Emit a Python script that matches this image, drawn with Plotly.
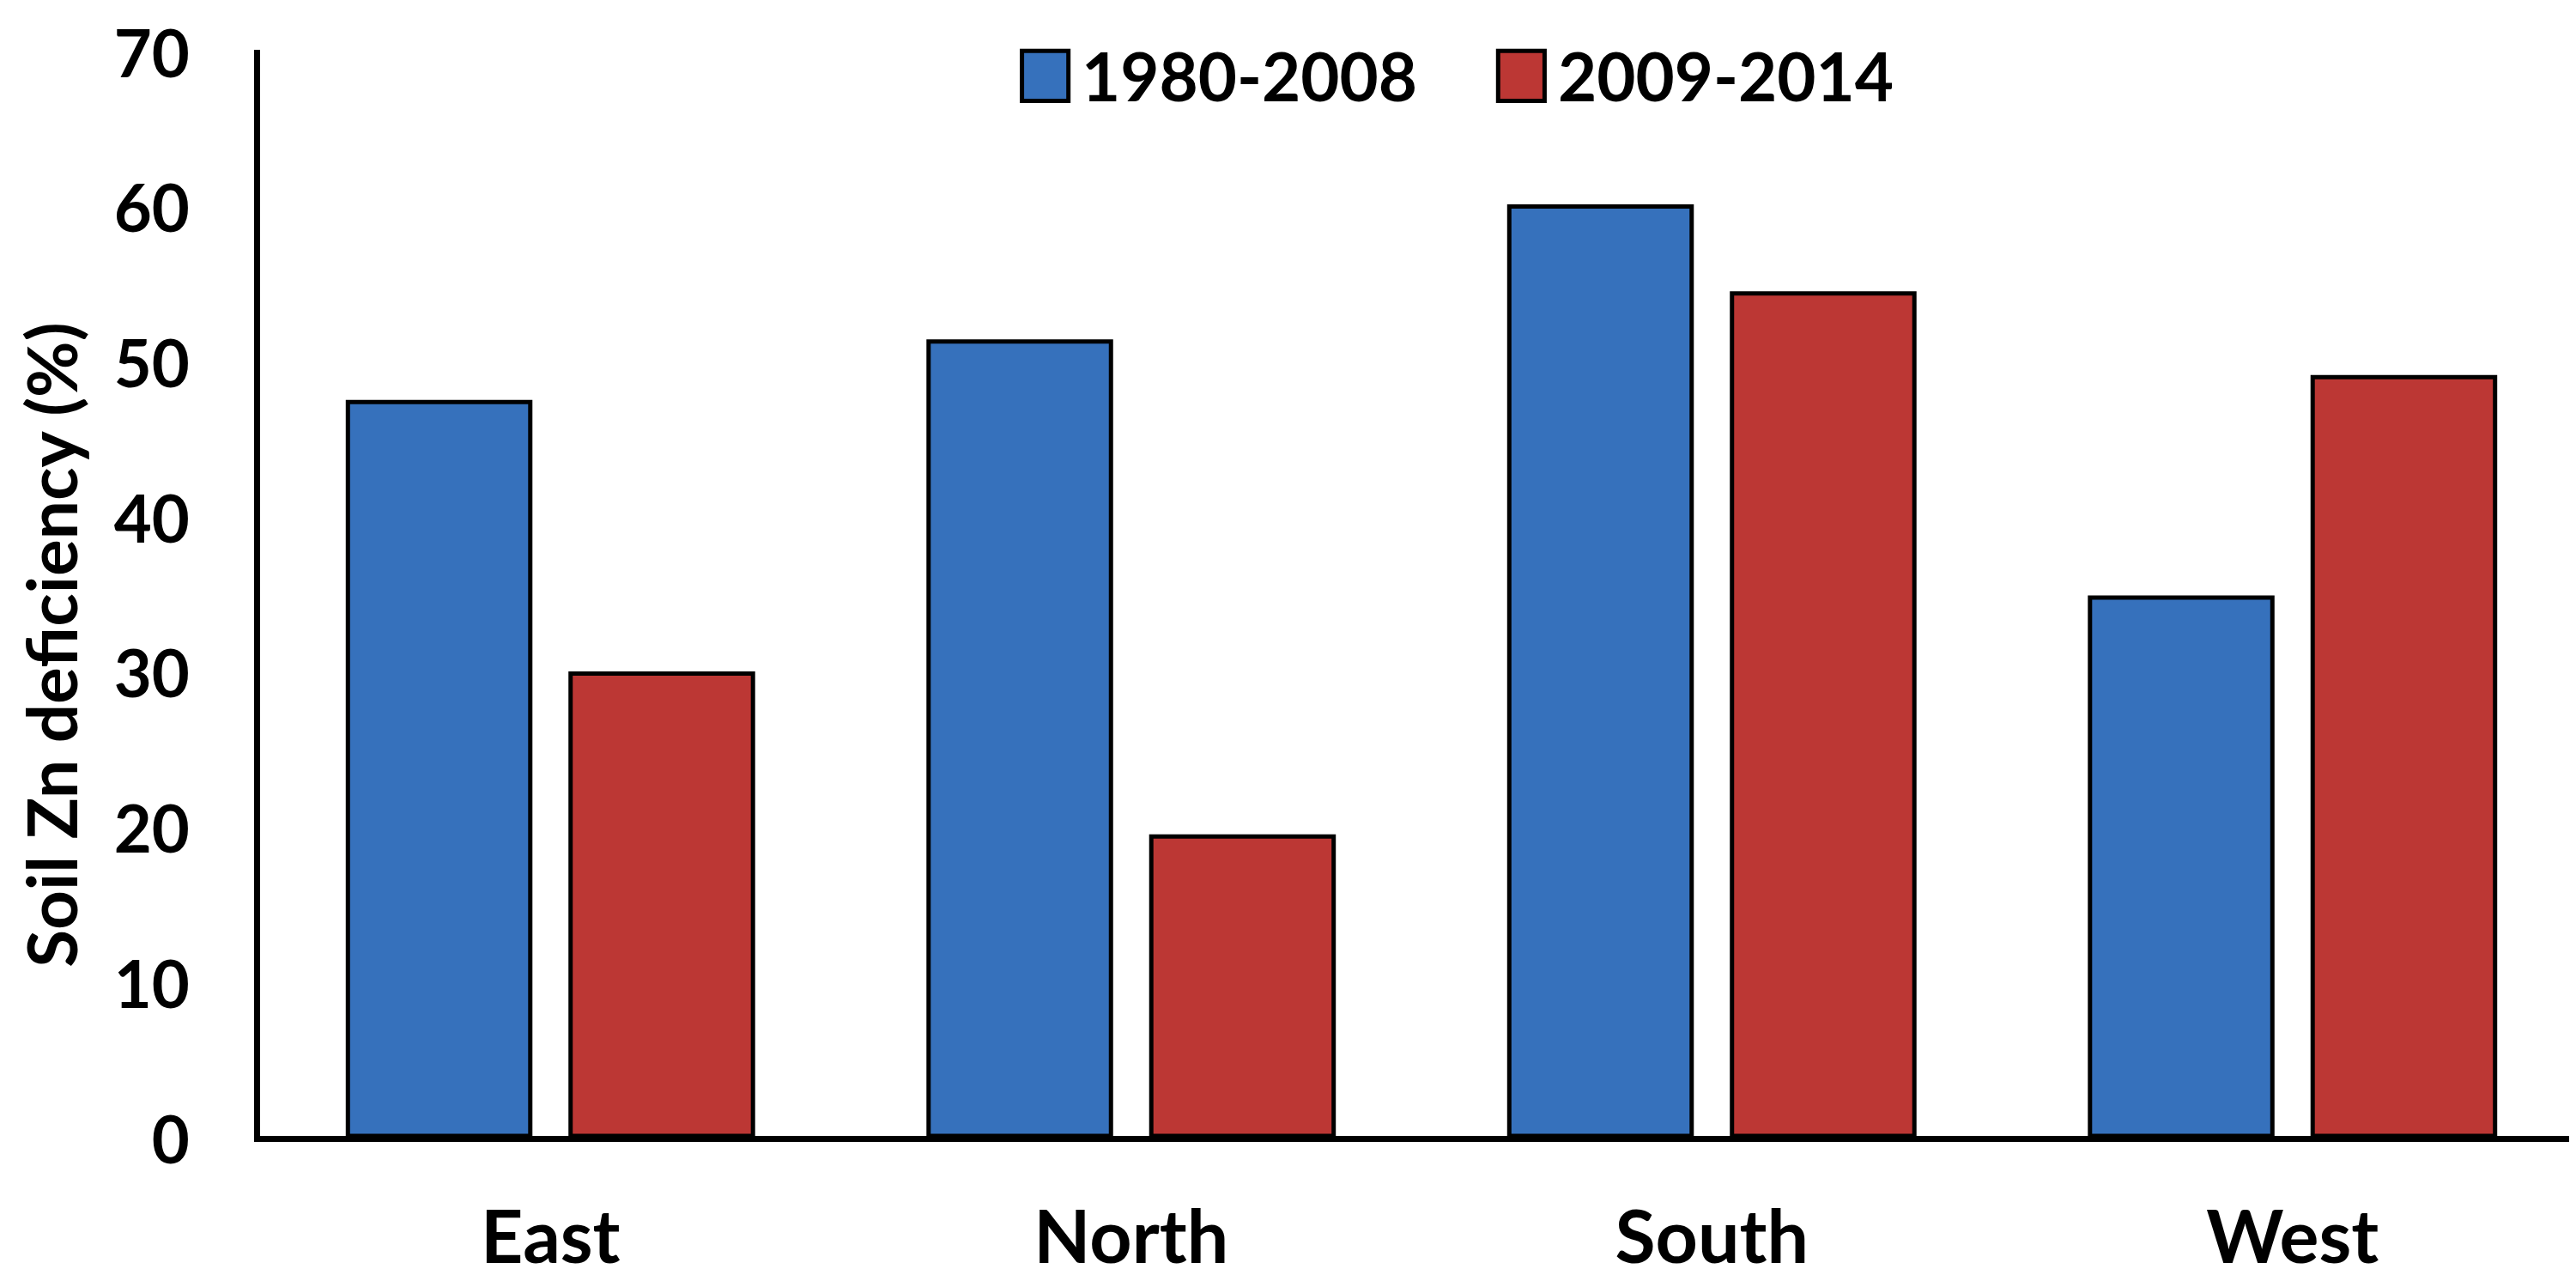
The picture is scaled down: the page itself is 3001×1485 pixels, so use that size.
import plotly.graph_objects as go

regions = ["East", "North", "South", "West"]
period_labels = ["1980-2008", "2009-2014"]
zn_1980_2008 = [47.3, 51.2, 59.9, 34.7]
zn_2009_2014 = [29.8, 19.3, 54.3, 48.9]
y_ticks = [0, 10, 20, 30, 40, 50, 60, 70]
y_title = "Soil Zn deficiency (%)"

blue = "#3671bc"
red = "#bc3734"

fig = go.Figure()
fig.add_trace(go.Bar(x=regions, y=zn_1980_2008, name=period_labels[0],
                     marker=dict(color=blue, line=dict(color="black", width=5))))
fig.add_trace(go.Bar(x=regions, y=zn_2009_2014, name=period_labels[1],
                     marker=dict(color=red, line=dict(color="black", width=5))))

# legend drawn by hand so the swatches can be as big as the original
legend_items = [(period_labels[0], blue, 0.328), (period_labels[1], red, 0.533)]
for label, colour, x0 in legend_items:
    fig.add_shape(type="rect", xref="paper", yref="paper",
                  x0=x0, x1=x0 + 0.020, y0=0.953, y1=0.999,
                  fillcolor=colour, line=dict(color="black", width=5))
    fig.add_annotation(text=label, xref="paper", yref="paper",
                       x=x0 + 0.025, y=0.976, xanchor="left", yanchor="middle",
                       showarrow=False,
                       font=dict(family="Lato", size=78, color="black", weight="bold"))

# y axis title as an annotation so it sits where the original has it
fig.add_annotation(text=y_title, xref="paper", yref="paper",
                   x=-0.0900, y=0.452, xanchor="center", yanchor="middle",
                   textangle=-90, showarrow=False,
                   font=dict(family="Lato", size=80, color="black", weight="bold"))

fig.update_layout(
    width=3001, height=1485,
    margin=dict(l=295, r=0, t=50, b=170),
    paper_bgcolor="white", plot_bgcolor="white",
    barmode="group", bargap=0.233, bargroupgap=0.181,
    showlegend=False,
    font=dict(family="Lato", color="black"),
)
fig.update_xaxes(
    showline=True, linecolor="black", linewidth=7,
    showgrid=False, ticks="", ticklabelstandoff=38, automargin=False,
    tickfont=dict(size=86, weight="bold"),
)
fig.update_yaxes(
    range=[0, 70], tickvals=y_ticks,
    showline=True, linecolor="black", linewidth=7,
    showgrid=False, zeroline=False, ticks="", ticklabelstandoff=60,
    ticklabeloverflow="allow", automargin=False, ticklabelshift=5,
    tickfont=dict(size=76, weight="bold"),
)

fig.write_html("out.html")
